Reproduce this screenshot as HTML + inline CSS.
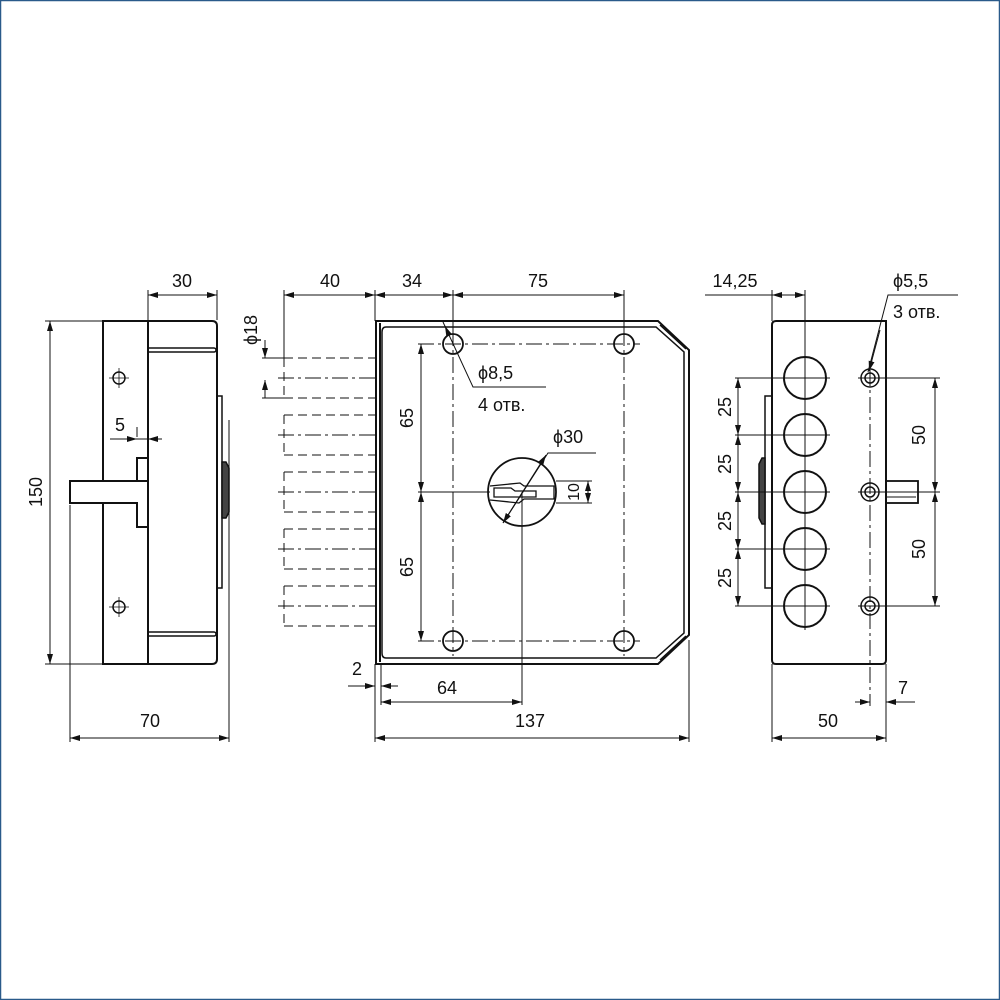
<!DOCTYPE html>
<html><head><meta charset="utf-8"><style>
html,body{margin:0;padding:0;background:#fff}
svg{display:block}
text{font-family:"Liberation Sans",sans-serif;font-size:18px;fill:#111}
</style></head><body>
<svg width="1000" height="1000" viewBox="0 0 1000 1000" xmlns="http://www.w3.org/2000/svg">
<defs>
<marker id="a" viewBox="0 0 10 6" refX="10" refY="3" markerWidth="10" markerHeight="6" orient="auto-start-reverse" markerUnits="userSpaceOnUse"><path d="M0,0L10,3L0,6z" fill="#111"/></marker>
</defs>
<rect x="0.5" y="0.5" width="999" height="999" fill="none" stroke="#2a5a8a" stroke-width="1.5"/>
<g fill="none" stroke="#111" stroke-width="1">
<!-- LEFT VIEW -->
<g stroke-width="2">
<rect x="103" y="321" width="45" height="343"/>
<path d="M148,321H212Q217,321 217,326V659Q217,664 212,664H148"/>
<rect x="217" y="396" width="5" height="192" stroke-width="1.5"/>
<path d="M222,462h4l3,6v44l-3,6h-4z" fill="#444" stroke-width="1.5"/>
<path d="M148,481H70V503H137V527H148V458H137V481" fill="#fff"/>
</g>
<path d="M148,348H214M148,352H214M214,348a2,2 0 0 1 0,4M148,632H214M148,636H214M214,632a2,2 0 0 1 0,4" stroke-width="1.5"/>
<circle cx="119" cy="378" r="6" stroke-width="1.5"/><circle cx="119" cy="607" r="6" stroke-width="1.5"/>
<path d="M109,378h20M119,368v20M109,607h20M119,597v20" stroke-width="0.8"/>
<path d="M148,290v30M217,290v30M70,505V742M229,420V742M45,321H103M45,664H103M110,439h52"/>
<path d="M148,295H217" marker-start="url(#a)" marker-end="url(#a)"/>
<path d="M50,321V664" marker-start="url(#a)" marker-end="url(#a)"/>
<path d="M70,738H229" marker-start="url(#a)" marker-end="url(#a)"/>
<path d="M120,439H137" marker-end="url(#a)"/><path d="M162,439H148" marker-end="url(#a)"/>
<path d="M137,437v-10"/>

<!-- BOLTS dashed -->
<g stroke-dasharray="9,5">
<path d="M284,358H375M284,398H375M284,358V398M284,415H375M284,455H375M284,415V455M284,472H375M284,512H375M284,472V512M284,529H375M284,569H375M284,529V569M284,586H375M284,626H375M284,586V626"/>
</g>
<g stroke-dasharray="16,4,3,4">
<path d="M278,378H375M278,435H375M278,492H375M278,549H375M278,606H375"/>
</g>
<path d="M284,290V358M375,290V321M262,358H284M262,398H284"/>
<path d="M284,295H375" marker-start="url(#a)" marker-end="url(#a)"/>
<path d="M265,340V358" marker-end="url(#a)"/>
<path d="M265,380V398" marker-start="url(#a)"/>

<!-- MAIN PLATE -->
<path d="M376,321H658L689,350V635L658,664H376Z" stroke-width="2"/>
<path d="M380,323V662" stroke-width="2"/>
<path d="M386,327H656L684,352V633L656,658H386Q382,658 382,653V332Q382,327 386,327Z" stroke-width="1.5"/>
<path d="M660,325L686,349M660,660L686,636" stroke-width="1.5"/>
<g stroke-width="1.8">
<circle cx="453" cy="344" r="10"/><circle cx="624" cy="344" r="10"/>
<circle cx="453" cy="641" r="10"/><circle cx="624" cy="641" r="10"/>
<circle cx="522" cy="492" r="34"/>
</g>
<path d="M490,486L520,483L524,486H554V499H524L519,503L490,500" stroke-width="1.3"/>
<path d="M494,488H511L515,491H536V497H494Z" stroke-width="1.3"/>
<g stroke-dasharray="16,4,3,4">
<path d="M418,344H640M418,641H640M453,330V656M624,330V656"/>
</g>
<path d="M453,290V332M624,290V332M418,492H490M522,492V705M556,481H592M556,503H592"/>
<path d="M375,295H453" marker-start="url(#a)" marker-end="url(#a)"/>
<path d="M453,295H624" marker-start="url(#a)" marker-end="url(#a)"/>
<path d="M421,344V492" marker-start="url(#a)" marker-end="url(#a)"/>
<path d="M421,492V641" marker-start="url(#a)" marker-end="url(#a)"/>
<path d="M588,481V503" marker-start="url(#a)" marker-end="url(#a)"/>
<path d="M503,523L548,453H596"/>
<path d="M540,465L503,523" marker-end="url(#a)"/><path d="M508,515L546,455" marker-end="url(#a)"/>
<path d="M443,322L473,387H546"/>
<path d="M445,326L449,335" marker-start="url(#a)"/>
<path d="M381,664V705M375,664V742M689,640V742"/>
<path d="M348,686H375" marker-end="url(#a)"/><path d="M398,686H381" marker-end="url(#a)"/>
<path d="M381,702H522" marker-start="url(#a)" marker-end="url(#a)"/>
<path d="M375,738H689" marker-start="url(#a)" marker-end="url(#a)"/>

<!-- RIGHT VIEW -->
<path d="M776,321H886V660Q886,664 882,664H776Q772,664 772,660V325Q772,321 776,321Z" stroke-width="2"/>
<rect x="765" y="396" width="7" height="192" stroke-width="1.5"/>
<path d="M765,458h-3l-3,6v54l3,6h3z" fill="#444" stroke-width="1.5"/>
<rect x="886" y="481" width="32" height="22" stroke-width="1.8"/>
<path d="M886,497H916" stroke-width="1"/>
<g stroke-width="2">
<circle cx="805" cy="378" r="21"/><circle cx="805" cy="435" r="21"/><circle cx="805" cy="492" r="21"/><circle cx="805" cy="549" r="21"/><circle cx="805" cy="606" r="21"/>
</g>
<g stroke-width="1.5">
<circle cx="870" cy="378" r="9"/><circle cx="870" cy="378" r="5"/>
<circle cx="870" cy="492" r="9"/><circle cx="870" cy="492" r="5"/>
<circle cx="870" cy="606" r="9"/><circle cx="870" cy="606" r="5"/>
</g>
<path d="M805,290V630M735,378H830M735,435H830M735,492H830M735,549H830M735,606H830M858,378H940M858,492H940M858,606H940M772,290V321M772,664V742M886,664V742M705,295H772"/>
<path d="M870,370V706" stroke-dasharray="16,4,3,4"/>
<path d="M738,378V435" marker-start="url(#a)" marker-end="url(#a)"/>
<path d="M738,435V492" marker-start="url(#a)" marker-end="url(#a)"/>
<path d="M738,492V549" marker-start="url(#a)" marker-end="url(#a)"/>
<path d="M738,549V606" marker-start="url(#a)" marker-end="url(#a)"/>
<path d="M935,378V492" marker-start="url(#a)" marker-end="url(#a)"/>
<path d="M935,492V606" marker-start="url(#a)" marker-end="url(#a)"/>
<path d="M772,295H805" marker-start="url(#a)" marker-end="url(#a)"/>
<path d="M958,295H888L868,372" />
<path d="M880,330L869,371" marker-end="url(#a)"/>
<path d="M855,702H870" marker-end="url(#a)"/><path d="M915,702H886" marker-end="url(#a)"/>
<path d="M772,738H886" marker-start="url(#a)" marker-end="url(#a)"/>
</g>
<!-- TEXT -->
<text x="182" y="287" text-anchor="middle">30</text>
<text x="120" y="431" text-anchor="middle">5</text>
<text x="150" y="727" text-anchor="middle">70</text>
<text transform="translate(42,492) rotate(-90)" text-anchor="middle">150</text>
<text x="330" y="287" text-anchor="middle">40</text>
<text transform="translate(257,330) rotate(-90)" text-anchor="middle">ϕ18</text>
<text x="412" y="287" text-anchor="middle">34</text>
<text x="538" y="287" text-anchor="middle">75</text>
<text transform="translate(413,418) rotate(-90)" text-anchor="middle">65</text>
<text transform="translate(413,567) rotate(-90)" text-anchor="middle">65</text>
<text x="478" y="379">ϕ8,5</text>
<text x="478" y="411">4 отв.</text>
<text x="553" y="443">ϕ30</text>
<text transform="translate(579,492) rotate(-90)" text-anchor="middle" style="font-size:16px">10</text>
<text x="357" y="675" text-anchor="middle">2</text>
<text x="447" y="694" text-anchor="middle">64</text>
<text x="530" y="727" text-anchor="middle">137</text>
<text x="735" y="287" text-anchor="middle">14,25</text>
<text x="893" y="287">ϕ5,5</text>
<text x="893" y="318">3 отв.</text>
<text transform="translate(731,407) rotate(-90)" text-anchor="middle">25</text>
<text transform="translate(731,464) rotate(-90)" text-anchor="middle">25</text>
<text transform="translate(731,521) rotate(-90)" text-anchor="middle">25</text>
<text transform="translate(731,578) rotate(-90)" text-anchor="middle">25</text>
<text transform="translate(925,435) rotate(-90)" text-anchor="middle">50</text>
<text transform="translate(925,549) rotate(-90)" text-anchor="middle">50</text>
<text x="903" y="694" text-anchor="middle">7</text>
<text x="828" y="727" text-anchor="middle">50</text>
</svg>
</body></html>
